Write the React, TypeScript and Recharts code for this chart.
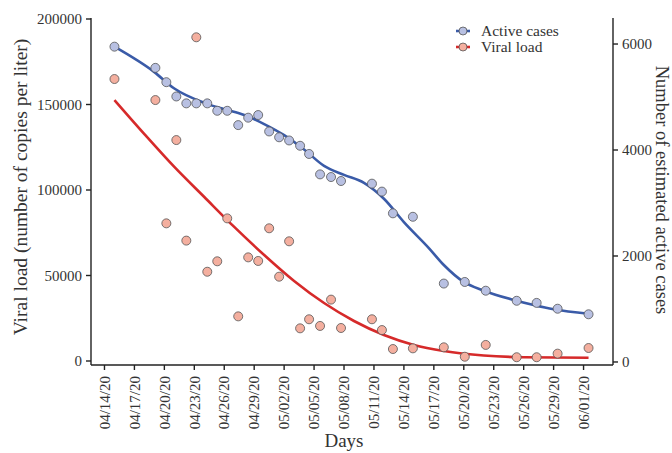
import { ComposedChart, Line, Scatter, XAxis, YAxis } from "recharts";

// day offsets counted from 04/14/20
const dateLabels = [
  "04/14/20", "04/17/20", "04/20/20", "04/23/20", "04/26/20", "04/29/20",
  "05/02/20", "05/05/20", "05/08/20", "05/11/20", "05/14/20", "05/17/20",
  "05/20/20", "05/23/20", "05/26/20", "05/29/20", "06/01/20",
];
const tickDays = dateLabels.map((_, i) => i * 3);

const sampleDays = [
  1.0, 5.1, 6.2, 7.2, 8.2, 9.2, 10.3, 11.3, 12.3, 13.4, 14.4, 15.4, 16.5, 17.5, 18.5, 19.6,
  20.5, 21.6, 22.7, 23.7, 26.8, 27.8, 28.9, 30.9, 34.0, 36.1, 38.2, 41.3, 43.3, 45.4, 48.5,
];
const activeCases = [
  5950, 5550, 5280, 5010, 4880, 4880, 4880, 4740, 4740, 4470, 4610, 4660, 4350, 4240, 4180, 4080,
  3925, 3540, 3490, 3415, 3365, 3215, 2805, 2740, 1480, 1510, 1345, 1155, 1115, 1005, 900,
];
const viralLoad = [
  164900, 152600, 80500, 129200, 70400, 189300, 52200, 58300, 83400, 26100, 60600, 58500, 77600,
  49300, 70000, 19100, 24400, 20500, 35900, 19300, 24400, 18100, 7000, 7400, 8000, 2500, 9400,
  2200, 2200, 4300, 7600,
];

// smoothed trend lines
const activeFitDays = [1, 5, 7, 10, 12, 14, 16, 18, 20, 22, 24, 26, 28, 30, 32.5, 34, 36, 38, 41, 43, 45, 48.5];
const activeFit = [
  5950, 5470, 5160, 4890, 4770, 4660, 4490, 4280, 4010, 3700, 3530, 3380, 3080, 2640, 2150, 1830,
  1510, 1345, 1170, 1075, 994, 910,
];
const viralFitDays = [1, 4, 7, 10, 13, 16, 19, 22, 25, 28, 31, 34, 38, 42, 48.5];
const viralFit = [
  152600, 132700, 113500, 95900, 78400, 62000, 46800, 33900, 23400, 15200, 9400, 5850, 3200, 2200, 1900,
];

const activePts = sampleDays.map((d, i) => ({ day: d, value: activeCases[i] }));
const viralPts = sampleDays.map((d, i) => ({ day: d, value: viralLoad[i] }));
const activeLine = activeFitDays.map((d, i) => ({ day: d, value: activeFit[i] }));
const viralLine = viralFitDays.map((d, i) => ({ day: d, value: viralFit[i] }));

const FONT = "'Liberation Serif', 'Times New Roman', serif";
const INK = "#333";
const AXIS = "#222";
const BLUE = "#3a5ba8";
const RED = "#d62a2a";
const BLUE_FILL = "#b8c0e2";
const RED_FILL = "#f4af9f";

const tickStyle = { fontFamily: FONT, fontSize: 15, fill: INK };
const axisLine = { stroke: AXIS, strokeWidth: 1.4 };

function dot(fill: string) {
  return (p: any) => <circle cx={p.cx} cy={p.cy} r={4.5} fill={fill} stroke="#555" strokeWidth={0.8} />;
}

function DateTick(p: any) {
  const label = dateLabels[tickDays.indexOf(p.payload.value)] ?? "";
  return (
    <text
      x={p.x}
      y={p.y}
      transform={`rotate(-90, ${p.x}, ${p.y})`}
      textAnchor="end"
      dy="0.35em"
      fontFamily={FONT}
      fontSize={15}
      fill={INK}
    >
      {label}
    </text>
  );
}

export default function App() {
  return (
    <div style={{ position: "absolute", left: 0, top: 0, background: "#fff" }}>
      <ComposedChart width={672} height={453} margin={{ top: 18, right: 0, bottom: 0, left: 0 }}>
        <XAxis
          dataKey="day"
          type="number"
          domain={[-1.35, 50.95]}
          ticks={tickDays}
          interval={0}
          height={88}
          tickSize={5}
          tickMargin={6}
          axisLine={axisLine}
          tickLine={axisLine}
          tick={<DateTick />}
        />
        <YAxis
          yAxisId="left"
          type="number"
          domain={[-2340, 200585]}
          ticks={[0, 50000, 100000, 150000, 200000]}
          width={91}
          tickSize={5}
          tickMargin={4}
          axisLine={axisLine}
          tickLine={axisLine}
          tick={tickStyle}
        />
        <YAxis
          yAxisId="right"
          orientation="right"
          type="number"
          domain={[-57, 6491]}
          ticks={[0, 2000, 4000, 6000]}
          width={59}
          tickSize={5}
          tickMargin={4}
          axisLine={axisLine}
          tickLine={axisLine}
          tick={tickStyle}
        />
        <Scatter yAxisId="left" data={viralPts} dataKey="value" shape={dot(RED_FILL)} isAnimationActive={false} />
        <Scatter yAxisId="right" data={activePts} dataKey="value" shape={dot(BLUE_FILL)} isAnimationActive={false} />
        <Line
          yAxisId="left"
          data={viralLine}
          dataKey="value"
          type="monotone"
          stroke={RED}
          strokeWidth={2.6}
          dot={false}
          activeDot={false}
          isAnimationActive={false}
        />
        <Line
          yAxisId="right"
          data={activeLine}
          dataKey="value"
          type="monotone"
          stroke={BLUE}
          strokeWidth={2.6}
          dot={false}
          activeDot={false}
          isAnimationActive={false}
        />
        <text x={20} y={187} transform="rotate(-90, 20, 187)" textAnchor="middle" dominantBaseline="central" fontFamily={FONT} fontSize={19.5} fill={INK}>
          Viral load (number of copies per liter)
        </text>
        <text x={662} y={190} transform="rotate(90, 662, 190)" textAnchor="middle" dominantBaseline="central" fontFamily={FONT} fontSize={18.5} fill={INK}>
          Number of estimated active cases
        </text>
        <text x={344} y={447} textAnchor="middle" fontFamily={FONT} fontSize={19} fill={INK}>
          Days
        </text>
        <g fontFamily={FONT} fontSize={15.5} fill={INK}>
          <line x1={456} x2={470} y1={31} y2={31} stroke={BLUE} strokeWidth={2.6} />
          <circle cx={463} cy={31} r={4} fill={BLUE_FILL} stroke="#555" strokeWidth={0.8} />
          <text x={481} y={36}>Active cases</text>
          <line x1={456} x2={470} y1={47} y2={47} stroke={RED} strokeWidth={2.6} />
          <circle cx={463} cy={47} r={4} fill={RED_FILL} stroke="#555" strokeWidth={0.8} />
          <text x={481} y={52}>Viral load</text>
        </g>
      </ComposedChart>
    </div>
  );
}
